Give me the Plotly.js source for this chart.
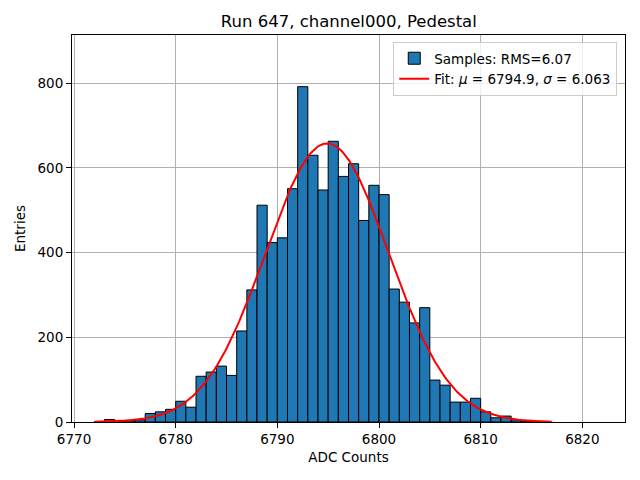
<!DOCTYPE html>
<html>
<head>
<meta charset="utf-8">
<script src="https://cdn.plot.ly/plotly-3.0.1.min.js"></script>
<style>html,body{margin:0;padding:0;background:#fff;}</style>
</head>
<body>
<div id="chart" style="width:640px;height:480px;"></div>
<script>
// Histogram bins (left edges, width 1 ADC count) and entries
const binStart = [6772,6773,6774,6775,6776,6777,6778,6779,6780,6781,6782,6783,6784,6785,6786,6787,6788,6789,6790,6791,6792,6793,6794,6795,6796,6797,6798,6799,6800,6801,6802,6803,6804,6805,6806,6807,6808,6809,6810,6811,6812,6813,6814,6815];
const entries  = [1,6,2,4,5,20,24,30,49,35,108,118,132,110,215,312,512,424,435,551,792,630,548,663,580,610,476,559,537,314,283,234,270,99,87,47,47,56,24,10,14,5,2,1];
const binWidth = 1;

// Gaussian fit parameters shown in the legend
const fitMu = 6794.9;
const fitSigma = 6.063;
const fitN = 10000;
const fitXMin = 6772, fitXMax = 6817;

const xTicks = [6770,6780,6790,6800,6810,6820];
const yTicks = [0,200,400,600,800];

const fitX = [], fitY = [];
const nPts = 300;
for (let i = 0; i <= nPts; i++) {
  const x = fitXMin + (fitXMax - fitXMin) * i / nPts;
  fitX.push(x);
  fitY.push(fitN * binWidth / (fitSigma * Math.sqrt(2 * Math.PI)) * Math.exp(-0.5 * Math.pow((x - fitMu) / fitSigma, 2)));
}

const font = "DejaVu Sans, sans-serif";

const traces = [
  {
    type: 'bar',
    x: binStart,
    y: entries,
    offset: 0,
    width: binWidth,
    name: 'Samples: RMS=6.07',
    marker: {color: '#1f77b4', line: {color: '#000000', width: 1}},
    hoverinfo: 'x+y'
  },
  {
    type: 'scatter',
    mode: 'lines',
    x: fitX,
    y: fitY,
    name: 'Fit: <i>μ</i> = 6794.9, <i>σ</i> = 6.063',
    line: {color: '#ff0000', width: 2}
  }
];

const axisCommon = {
  showline: true, linecolor: '#000', linewidth: 1, mirror: true,
  ticks: 'outside', ticklen: 5, tickwidth: 1, tickcolor: '#000',
  showgrid: true, gridcolor: '#b0b0b0', gridwidth: 1,
  zeroline: false,
  tickfont: {family: font, size: 13.5, color: '#000'}
};

const layout = {
  width: 640, height: 480,
  margin: {l: 72, r: 15, t: 35, b: 58},
  paper_bgcolor: '#fff', plot_bgcolor: '#fff',
  bargap: 0,
  font: {family: font, color: '#000'},
  title: {text: 'Run 647, channel000, Pedestal', font: {family: font, size: 16.5, color: '#000'}, x: 0.545, xanchor: 'center', y: 0.955, yanchor: 'middle'},
  xaxis: Object.assign({}, axisCommon, {
    range: [6769.8, 6824.2], tickvals: xTicks, ticktext: xTicks.map(String),
    title: {text: 'ADC Counts', font: {family: font, size: 13.5, color: '#000'}, standoff: 6}
  }),
  yaxis: Object.assign({}, axisCommon, {
    range: [0, 914], tickvals: yTicks, ticktext: yTicks.map(String),
    title: {text: 'Entries', font: {family: font, size: 13.5, color: '#000'}, standoff: 8}
  }),
  legend: {
    x: 0.986, y: 0.982, xanchor: 'right', yanchor: 'top',
    bgcolor: 'rgba(255,255,255,0.8)', bordercolor: '#cccccc', borderwidth: 1,
    font: {family: font, size: 13.5, color: '#000'},
    tracegroupgap: 0
  },
  showlegend: true
};

Plotly.newPlot('chart', traces, layout, {displayModeBar: false, staticPlot: true});
</script>
</body>
</html>
